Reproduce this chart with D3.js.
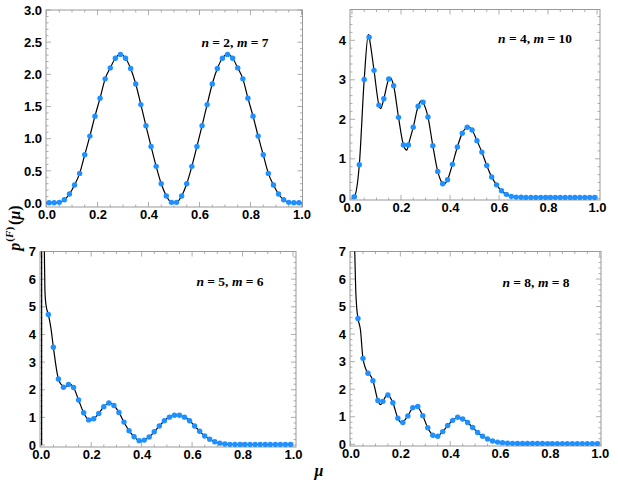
<!DOCTYPE html>
<html><head><meta charset="utf-8">
<script src="https://cdn.jsdelivr.net/npm/d3@7/dist/d3.min.js"></script>
<style>body{margin:0;background:#fff}svg{display:block}</style>
</head><body>
<svg id="chart" width="618" height="482"></svg>
<script>
// sample points mu
const mu = [0.01,0.03,0.05,0.07,0.09,0.11,0.13,0.15,0.17,0.19,0.21,0.23,0.25,0.27,0.29,0.31,0.33,0.35,0.37,0.39,0.41,0.43,0.45,0.47,0.49,
            0.51,0.53,0.55,0.57,0.59,0.61,0.63,0.65,0.67,0.69,0.71,0.73,0.75,0.77,0.79,0.81,0.83,0.85,0.87,0.89,0.91,0.93,0.95,0.97,0.99];
// dot values per panel
const p1 = [0.005,0.005,0.01,0.05,0.14,0.28,0.46,0.75,1.04,1.35,1.63,1.93,2.10,2.25,2.31,2.25,2.09,1.85,1.53,1.20,0.88,0.57,0.30,0.11,0.01,
            0.01,0.11,0.30,0.57,0.88,1.20,1.53,1.85,2.09,2.25,2.31,2.25,2.10,1.93,1.63,1.35,1.04,0.75,0.46,0.28,0.14,0.05,0.01,0.005,0.005];
const p2 = [0.04,0.85,3.01,4.08,3.24,2.36,2.52,3.02,2.85,2.05,1.35,1.35,1.80,2.33,2.43,2.06,1.33,0.68,0.37,0.47,0.86,1.30,1.65,1.80,1.73,
            1.46,1.17,0.83,0.54,0.34,0.19,0.10,0.05,0.03,0.025,0.02,0.02,0.02,0.02,0.02,0.02,0.02,0.02,0.02,0.02,0.02,0.02,0.02,0.02,0.02];
const p3 = [8.4,4.72,3.54,2.39,2.09,2.19,2.08,1.63,1.17,0.91,0.95,1.14,1.39,1.52,1.43,1.18,0.83,0.52,0.30,0.16,0.18,0.29,0.48,0.69,0.88,
            1.01,1.08,1.08,1.01,0.88,0.69,0.50,0.33,0.21,0.12,0.07,0.04,0.025,0.02,0.02,0.02,0.02,0.02,0.02,0.02,0.02,0.02,0.02,0.02,0.02];
const p4 = [9.5,4.57,3.12,2.58,2.31,1.59,1.56,1.79,1.51,0.95,0.79,1.03,1.33,1.37,1.04,0.60,0.33,0.29,0.46,0.68,0.87,0.98,0.92,0.79,0.61,
            0.43,0.29,0.19,0.12,0.08,0.06,0.04,0.035,0.03,0.03,0.03,0.03,0.03,0.03,0.025,0.025,0.025,0.025,0.025,0.025,0.025,0.025,0.025,0.025,0.025];
// extra points of the continuous curve (extrema / ends)
const c1x = [0.0, 0.5, 1.0];
const c1y = [0.0, 0.0, 0.0];
const c2x = [0.0, 0.067, 0.117, 0.155, 0.224, 0.285, 0.374, 0.475];
const c2y = [0.0, 4.15, 2.27, 3.06, 1.22, 2.48, 0.35, 1.81];
const c3x = [0.0035, 0.0037, 0.012, 0.0143, 0.0165, 0.021, 0.04, 0.092, 0.113, 0.198, 0.274, 0.40, 0.54];
const c3y = [0.0, 20, 8.5, 7.0, 5.6, 5.05, 4.25, 2.07, 2.21, 0.90, 1.53, 0.15, 1.09];
const c4x = [0.012, 0.017, 0.021, 0.025, 0.04, 0.078, 0.12, 0.148, 0.208, 0.268, 0.343, 0.435];
const c4y = [9.5, 7.0, 5.6, 4.95, 4.15, 2.52, 1.44, 1.80, 0.77, 1.39, 0.27, 0.98];
// ticks
const xTicks = [0, 0.2, 0.4, 0.6, 0.8, 1.0];
const yTicks1 = [0, 0.5, 1.0, 1.5, 2.0, 2.5, 3.0];
const yTicks2 = [0, 1, 2, 3, 4];
const yTicks34 = [0, 1, 2, 3, 4, 5, 6, 7];
const labelsN = [2, 4, 5, 8];
const labelsM = [7, 10, 6, 8];

const panels = [
  {vals: p1, cx: c1x, cy: c1y, box: [46, 302.5, 10, 207], xd: [-0.002, 1.004], yd: [-0.062, 3.0], yt: yTicks1, yfmt: ".1f", ymin: 0.1, lab: [235, 47]},
  {vals: p2, cx: c2x, cy: c2y, box: [350, 600, 9.5, 200], xd: [-0.008, 1.012], yd: [-0.043, 4.78], yt: yTicks2, yfmt: "d", ymin: 0.2, lab: [535, 43]},
  {vals: p3, cx: c3x, cy: c3y, box: [40, 296, 251.5, 447], xd: [-0.003, 1.012], yd: [-0.07, 7.0], yt: yTicks34, yfmt: "d", ymin: 0.2, lab: [230, 286]},
  {vals: p4, cx: c4x, cy: c4y, box: [350, 601, 251.5, 446], xd: [-0.002, 1.005], yd: [-0.062, 7.0], yt: yTicks34, yfmt: "d", ymin: 0.2, lab: [536, 287]}
];

const svg = d3.select("#chart");
const frameCol = "#999999";

panels.forEach((P, i) => {
  const [x0, x1, y0, y1] = P.box;
  const x = d3.scaleLinear().domain(P.xd).range([x0, x1]);
  const y = d3.scaleLinear().domain(P.yd).range([y1, y0]);
  const g = svg.append("g");

  const clipId = "clip" + i;
  svg.append("clipPath").attr("id", clipId).append("rect")
    .attr("x", x0).attr("y", y0).attr("width", x1 - x0).attr("height", y1 - y0);

  // minor ticks
  const xMinor = d3.range(0, 1.0001, 0.05);
  const yMinor = d3.range(0, P.yd[1] + 1e-6, P.ymin);
  const tickG = g.append("g").attr("stroke", frameCol).attr("stroke-width", 0.8);
  xMinor.forEach(v => {
    const major = xTicks.some(t => Math.abs(t - v) < 1e-6);
    const L = major ? 5 : 2.5;
    tickG.append("line").attr("x1", x(v)).attr("x2", x(v)).attr("y1", y1).attr("y2", y1 - L);
    tickG.append("line").attr("x1", x(v)).attr("x2", x(v)).attr("y1", y0).attr("y2", y0 + L);
  });
  yMinor.forEach(v => {
    const major = P.yt.some(t => Math.abs(t - v) < 1e-6);
    const L = major ? 5 : 2.5;
    tickG.append("line").attr("y1", y(v)).attr("y2", y(v)).attr("x1", x0).attr("x2", x0 + L);
    tickG.append("line").attr("y1", y(v)).attr("y2", y(v)).attr("x1", x1).attr("x2", x1 - L);
  });

  // axes labels
  const ax = g.append("g").attr("transform", `translate(0,${y1})`)
    .call(d3.axisBottom(x).tickValues(xTicks).tickFormat(d3.format(".1f")).tickSize(0).tickPadding(3));
  const ay = g.append("g").attr("transform", `translate(${x0},0)`)
    .call(d3.axisLeft(y).tickValues(P.yt).tickFormat(d3.format(P.yfmt)).tickSize(0).tickPadding(4));
  [ax, ay].forEach(a => {
    a.select(".domain").remove();
    a.selectAll("text").attr("font-family", "'Liberation Sans', Arial, sans-serif")
      .attr("font-weight", "bold").attr("font-size", 13).attr("fill", "#000");
  });

  // frame
  g.append("rect").attr("x", x0).attr("y", y0).attr("width", x1 - x0).attr("height", y1 - y0)
    .attr("fill", "none").attr("stroke", frameCol).attr("stroke-width", 1);

  // curve
  const pts = mu.map((m, k) => [m, P.vals[k]]).concat(P.cx.map((m, k) => [m, P.cy[k]]));
  pts.sort((a, b) => a[0] - b[0]);
  const line = d3.line().x(d => x(d[0])).y(d => y(d[1])).curve(d3.curveMonotoneX);
  const pg = g.append("g").attr("clip-path", `url(#${clipId})`);
  pg.append("path").attr("d", line(pts)).attr("fill", "none").attr("stroke", "#000").attr("stroke-width", 1.2);

  // dots
  pg.selectAll("circle").data(mu.map((m, k) => [m, P.vals[k]])).join("circle")
    .attr("cx", d => x(d[0])).attr("cy", d => y(d[1])).attr("r", 2.7).attr("fill", "#1E90FF");

  // annotation
  const t = g.append("text").attr("x", P.lab[0]).attr("y", P.lab[1]).attr("text-anchor", "middle")
    .attr("font-family", "'Liberation Serif', 'Times New Roman', serif").attr("font-weight", "bold").attr("font-size", 13.5);
  t.append("tspan").attr("font-style", "italic").text("n");
  t.append("tspan").text(" = " + labelsN[i] + ", ");
  t.append("tspan").attr("font-style", "italic").text("m");
  t.append("tspan").text(" = " + labelsM[i]);
});

// y label
const yl = svg.append("text").attr("transform", "translate(20,228) rotate(-90)").attr("text-anchor", "middle")
  .attr("font-family", "'Liberation Serif', 'Times New Roman', serif").attr("font-size", 16).attr("font-weight", "bold");
yl.append("tspan").attr("font-style", "italic").text("p");
yl.append("tspan").attr("font-size", 11).attr("dy", -7).attr("dx", 1).text("(");
yl.append("tspan").attr("font-size", 11).attr("font-style", "italic").text("F");
yl.append("tspan").attr("font-size", 11).text(")");
yl.append("tspan").attr("dy", 7).attr("dx", 2).text("(");
yl.append("tspan").attr("font-style", "italic").text("μ");
yl.append("tspan").text(")");

// x label
svg.append("text").attr("x", 319).attr("y", 476).attr("text-anchor", "middle")
  .attr("font-family", "'Liberation Serif', 'Times New Roman', serif").attr("font-size", 16).attr("font-weight", "bold")
  .attr("font-style", "italic").text("μ");
</script>
</body></html>
